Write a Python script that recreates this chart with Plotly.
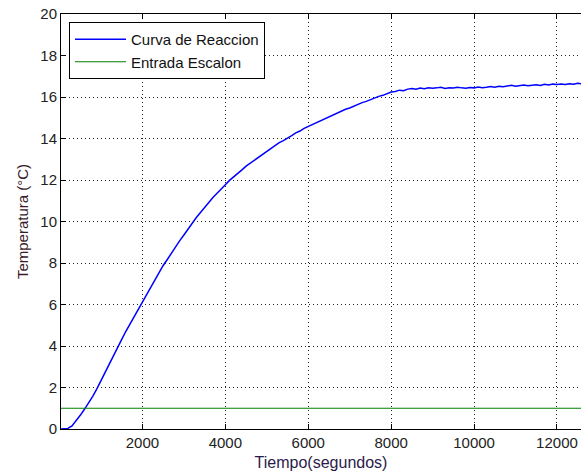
import plotly.graph_objects as go

tiempo = list(range(0, 12700, 100))
temperatura = [
    # 0 - 1900 s
    0.00, 0.00, 0.03, 0.15, 0.38, 0.66, 0.95, 1.25, 1.57, 1.93,
    2.34, 2.73, 3.16, 3.55, 3.96, 4.32, 4.71, 5.06, 5.46, 5.81,
    # 2000 - 7900 s
    6.18, 6.53, 6.85, 7.21, 7.53, 7.88, 8.17, 8.49, 8.77, 9.08,
    9.35, 9.65, 9.91, 10.19, 10.43, 10.69, 10.91, 11.16, 11.36, 11.59,
    11.77, 11.98, 12.14, 12.34, 12.49, 12.67, 12.81, 12.98, 13.11, 13.27,
    13.39, 13.54, 13.65, 13.80, 13.90, 14.04, 14.14, 14.27, 14.36, 14.49,
    14.58, 14.70, 14.78, 14.89, 14.96, 15.07, 15.14, 15.25, 15.31, 15.41,
    15.47, 15.57, 15.63, 15.73, 15.79, 15.88, 15.94, 16.03, 16.08, 16.17,
    # 8000 - 12600 s
    16.24, 16.27, 16.33, 16.30, 16.38, 16.41, 16.37, 16.43, 16.40, 16.45,
    16.42, 16.44, 16.47, 16.41, 16.45, 16.43, 16.47, 16.44, 16.42, 16.46,
    16.44, 16.48, 16.45, 16.47, 16.51, 16.47, 16.52, 16.50, 16.53, 16.56,
    16.52, 16.55, 16.58, 16.54, 16.57, 16.59, 16.56, 16.61, 16.58, 16.62,
    16.60, 16.63, 16.60, 16.64, 16.62, 16.66, 16.64,
]

escalon_t = [0, 12700]
escalon_v = [1, 1]

x_ticks = [2000, 4000, 6000, 8000, 10000, 12000]
y_ticks = [0, 2, 4, 6, 8, 10, 12, 14, 16, 18, 20]

FONT = "Liberation Sans, Arial, sans-serif"

fig = go.Figure()
fig.add_trace(go.Scatter(x=tiempo, y=temperatura, mode="lines",
                         name="Curva de Reaccion",
                         line=dict(color="#0000ff", width=1.5)))
fig.add_trace(go.Scatter(x=escalon_t, y=escalon_v, mode="lines",
                         name="Entrada Escalon",
                         line=dict(color="#008000", width=1.2)))

axis_common = dict(
    showline=True, linecolor="black", linewidth=1,
    ticks="inside", ticklen=5, tickcolor="black", tickwidth=1,
    showgrid=True, gridcolor="#222222", gridwidth=1, griddash="1px,3px",
    zeroline=False,
    tickfont=dict(family=FONT, size=15, color="#222222"),
)

fig.update_layout(
    width=581, height=474,
    margin=dict(l=61, r=0, t=14, b=45),
    paper_bgcolor="white", plot_bgcolor="white",
    font=dict(family=FONT, color="#222222"),
    showlegend=True,
    legend=dict(
        x=0.0154, y=0.9807, xanchor="left", yanchor="top",
        bgcolor="white", bordercolor="black", borderwidth=1,
        font=dict(family=FONT, size=15, color="#111111"),
        itemwidth=51, tracegroupgap=0,
    ),
    xaxis=dict(
        range=[35, 12580], tickvals=x_ticks, ticktext=[str(v) for v in x_ticks],
        mirror="ticks",
        title=dict(text="Tiempo(segundos)", standoff=6,
                   font=dict(family=FONT, size=16, color="#2a1a4a")),
        **axis_common,
    ),
    yaxis=dict(
        range=[0, 20], tickvals=y_ticks, ticktext=[str(v) for v in y_ticks],
        title=dict(text="Temperatura (°C)", standoff=8,
                   font=dict(family=FONT, size=15, color="#3a1a2a")),
        **axis_common,
    ),
)

fig.write_html("out.html")
